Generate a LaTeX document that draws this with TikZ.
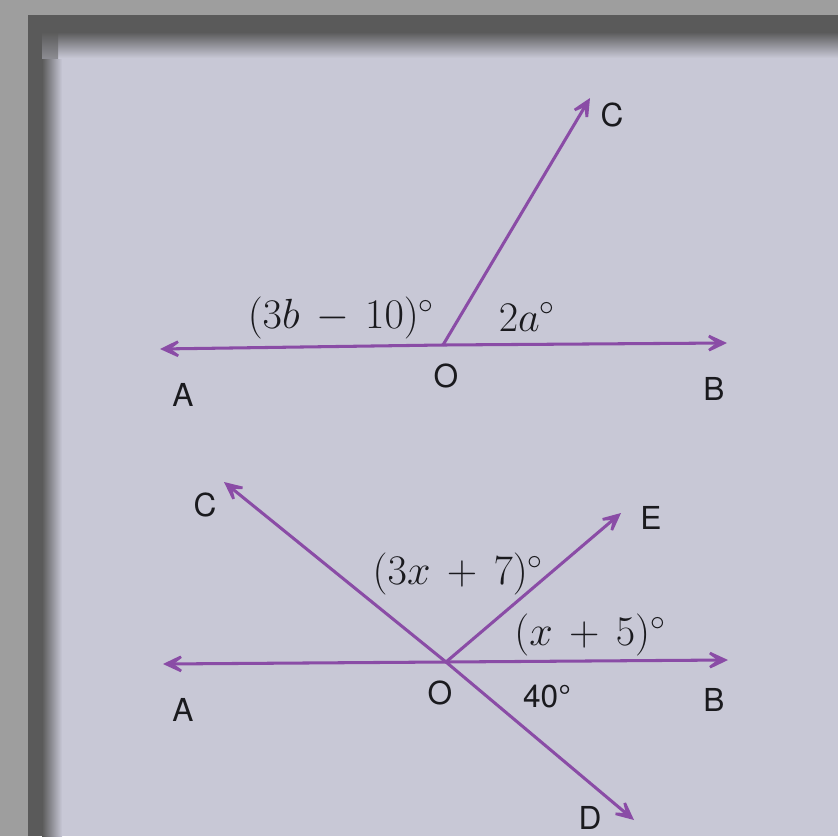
\RequirePackage{fix-cm}
\documentclass[tikz,border=0pt]{standalone}
\usepackage{fontspec}
\usepackage{amsmath}
\newfontfamily\labfont{TeX Gyre Heros}
\usetikzlibrary{arrows.meta}
\definecolor{outergray}{HTML}{9E9E9E}
\definecolor{edgegray}{HTML}{5A5A5A}
\definecolor{paper}{HTML}{C8C8D6}
\definecolor{ray}{HTML}{8A4CA6}
\definecolor{ink}{HTML}{1A1A1E}
\tikzset{
  rayline/.style={draw=ray, line width=2.6pt, -{Stealth[length=0.9cm, width=0.85cm, inset=0.58cm]}},
  ptlabel/.style={font=\labfont\fontsize{27}{31}\selectfont, text=ink, inner sep=0pt},
  anglabel/.style={font=\fontsize{36}{42}\selectfont, text=ink, inner sep=0pt},
}
\begin{document}
\begin{tikzpicture}[x=0.03cm, y=-0.03cm]
\useasboundingbox (0,0) rectangle (838,836);
% background (photographed page)
\fill[outergray] (0,0) rectangle (838,836);
\fill[edgegray] (28,15) rectangle (838,836);
\fill[paper] (45,35) rectangle (838,836);
\shade[left color=edgegray, right color=paper] (42,32) rectangle (62,836);
\shade[top color=edgegray, bottom color=paper] (58,32) rectangle (838,58);
\shade[top color=edgegray, bottom color=edgegray!55!paper] (42,32) rectangle (58,58);

% ---------- top figure ----------
\coordinate (O1) at (443,345);
\coordinate (A1) at (160,349);
\coordinate (B1) at (727,343);
\coordinate (C1) at (590,98);
\draw[rayline] (O1) -- (A1);
\draw[rayline] (O1) -- (B1);
\draw[rayline] (O1) -- (C1);
\node[ptlabel] (lC1) at (612,115) {C};
\node[ptlabel] (lA1) at (183,395) {A};
\node[ptlabel] (lO1) at (446,376) {O};
\node[ptlabel] (lB1) at (714,389) {B};
\node[anglabel] (a1) at (341,318) {$(3b\,-\,10)^\circ$};
\node[anglabel] (a2) at (527,317) {$2a^\circ$};

% ---------- bottom figure ----------
\coordinate (O2) at (446,662);
\coordinate (A2) at (163,664);
\coordinate (B2) at (728,660);
\coordinate (C2) at (224,482);
\coordinate (D2) at (634,820);
\coordinate (E2) at (621,513);
\draw[rayline] (O2) -- (A2);
\draw[rayline] (O2) -- (B2);
\draw[rayline] (O2) -- (C2);
\draw[rayline] (O2) -- (D2);
\draw[rayline] (O2) -- (E2);
\node[ptlabel] (lC2) at (205,505) {C};
\node[ptlabel] (lE2) at (651,518) {E};
\node[ptlabel] (lA2) at (183,710) {A};
\node[ptlabel] (lO2) at (440,693) {O};
\node[ptlabel] (lB2) at (714,700) {B};
\node[ptlabel] (lD2) at (590,818) {D};
\node[anglabel] (a3) at (458,574) {$(3x\,+\,7)^\circ$};
\node[anglabel] (a4) at (590,635) {$(x\,+\,5)^\circ$};
\node[ptlabel] (a5) at (547,697) {40°};
\end{tikzpicture}
\end{document}
